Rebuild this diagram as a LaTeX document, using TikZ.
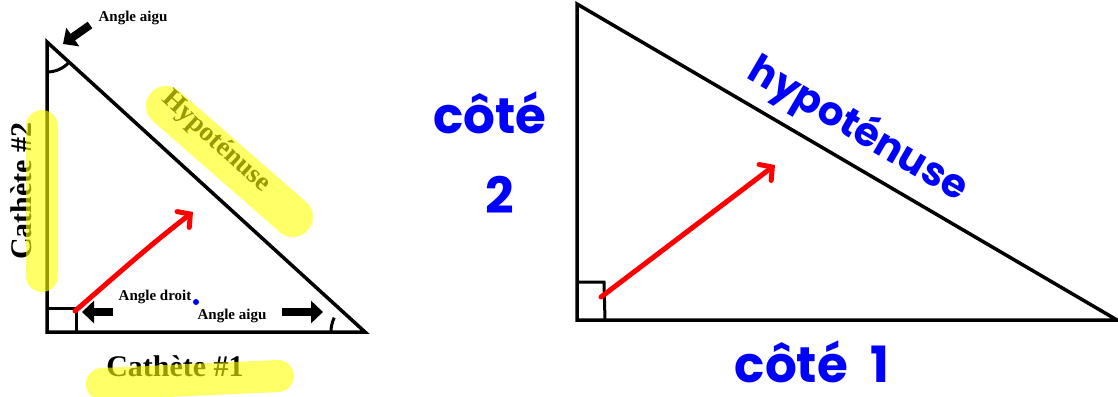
\documentclass[tikz,border=0pt]{standalone}
\usepackage{fontspec}
\setmainfont{Liberation Serif}
\newfontfamily\handfont{Poppins}
\usetikzlibrary{positioning,calc,arrows.meta}
\definecolor{Marker}{HTML}{FFFF00}
\definecolor{Ink}{HTML}{0000FF}
\definecolor{Pen}{HTML}{FF0000}

\tikzset{
	side/.style={draw=black,line width=3.5pt,line join=miter},
	corner/.style={draw=black,line width=3pt},
	label/.style={font=\bfseries,inner sep=0pt},
	handlabel/.style={font=\handfont\bfseries,text=Ink,inner sep=0pt},
	pointer/.style={line width=8pt,-{Triangle[length=12pt,width=22pt]}},
	redpen/.style={draw=Pen,line width=5pt,line cap=round,-{Straight Barb[length=9pt,width=20pt,line cap=round]}},
	highlight/.style={draw=Marker,line cap=round,opacity=0.6}
}

\begin{document}
\begin{tikzpicture}[x=1pt,y=-1pt]
	\useasboundingbox (0,0) rectangle (1118,396);

	% triangle de gauche
	\coordinate (A) at (47,42);
	\coordinate (B) at (47,332);
	\coordinate (C) at (365,332);
	\draw[side] (A) -- (B) -- (C) -- cycle;
	\draw[corner] (47,308) -- (76,308) -- (76,332);
	\draw[corner] ($(A)+(0,30)$) arc[start angle=90,end angle=42.4,radius=30];
	\draw[corner] ($(C)+(-34,0)$) arc[start angle=180,end angle=205,radius=34];

	\node[label,font=\bfseries\fontsize{15}{15}\selectfont] (aiguhaut) at (133,18) {Angle aigu};
	\node[label,font=\bfseries\fontsize{15}{15}\selectfont] (droit) at (155,297) {Angle droit};
	\node[label,font=\bfseries\fontsize{15}{15}\selectfont] (aigubas) at (232,316) {Angle aigu};
	\node[label,font=\bfseries\fontsize{30}{30}\selectfont,rotate=90] (cath2) at (21,191) {Cathète \#2};
	\node[label,font=\bfseries\fontsize{30}{30}\selectfont] (cath1) at (175,366) {Cathète \#1};
	\node[label,font=\bfseries\fontsize{27}{27}\selectfont,rotate=-42.4] (hypo) at (216,142) {Hypoténuse};
	\fill[Ink] (196,302) circle[radius=3];

	\coordinate (p1) at (90,25);
	\coordinate (p2) at (63,44);
	\coordinate (p3) at (113,312);
	\coordinate (p4) at (82,312);
	\coordinate (p5) at (282,312);
	\coordinate (p6) at (323,312);
	\draw[pointer] (p1) -- (p2);
	\draw[pointer] (p3) -- (p4);
	\draw[pointer] (p5) -- (p6);

	\coordinate (r1) at (75,311);
	\coordinate (r2) at (193,212);
	\draw[redpen] (r1) .. controls (120,272) and (150,245) .. (r2);

	% triangle de droite
	\coordinate (D) at (577,4);
	\coordinate (E) at (577,320);
	\coordinate (F) at (1117,320);
	\draw[side] (D) -- (E) -- (F) -- cycle;
	\draw[corner] (577,282) -- (604,282) -- (605,320);

	\node[handlabel,font=\handfont\bfseries\fontsize{50}{50}\selectfont] (cote2a) at (490,113) {côté};
	\node[handlabel,font=\handfont\bfseries\fontsize{50}{50}\selectfont] (cote2b) at (500,195) {2};
	\node[handlabel,font=\handfont\bfseries\fontsize{50}{50}\selectfont] (cote1) at (812,362) {côté\hspace{0.45em}1};
	\node[handlabel,font=\handfont\bfseries\fontsize{40}{40}\selectfont,rotate=-30.3] (hypo2) at (858,130) {hypoténuse};

	\coordinate (r3) at (601,297);
	\coordinate (r4) at (775,165);
	\draw[redpen] (r3) -- (r4);

	% surlignage
	\draw[highlight,line width=32pt] (42,126) -- (42,276);
	\draw[highlight,line width=40pt] (166,106) -- (293,217);
	\draw[highlight,line width=32pt] (102,384) -- (278,376);
\end{tikzpicture}
\end{document}
